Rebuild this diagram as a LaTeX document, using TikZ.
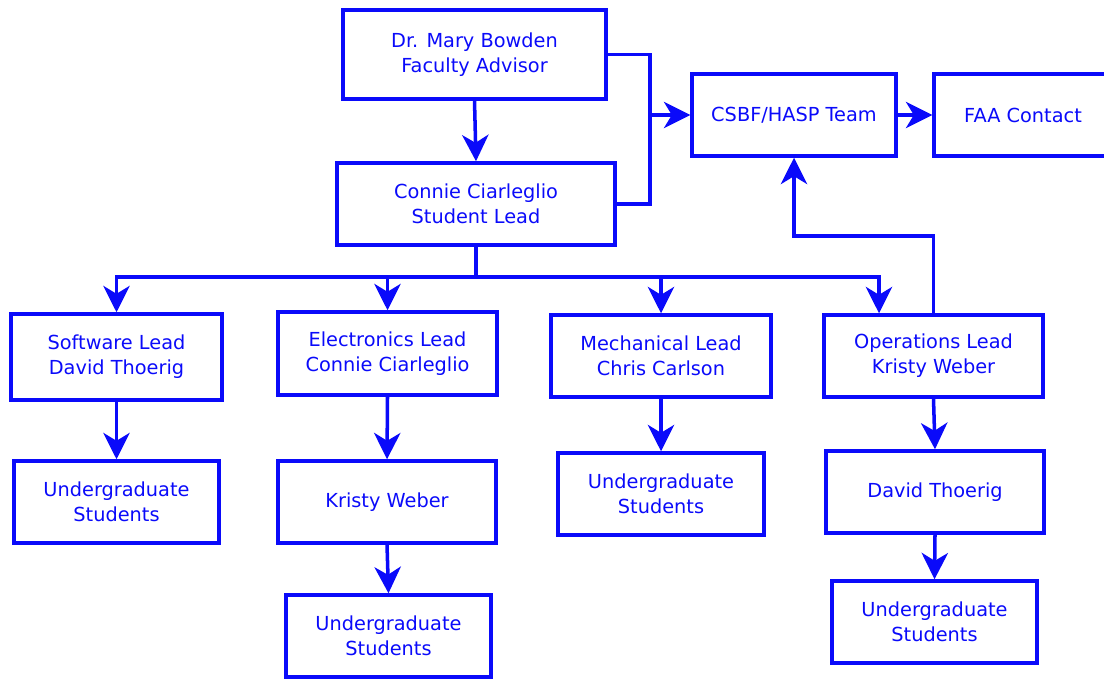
\documentclass[tikz,border=0pt]{standalone}
\usepackage{fontspec}
\setmainfont{DejaVu Sans}
\usepackage{xcolor}
\usetikzlibrary{positioning,arrows.meta}

\definecolor{orgblue}{RGB}{10,10,250}

\begin{document}
\begin{tikzpicture}[
					x=0.02cm, y=-0.02cm,
					box/.style={
						draw=orgblue, line width=2pt, text=orgblue, align=center,
						font=\fontsize{11}{14.2}\selectfont, inner sep=0pt,
						minimum width=4.38cm, minimum height=1.64cm
					},
					wire/.style={
						draw=orgblue, line width=2pt
					},
					link/.style={
						wire, -{Stealth[length=15pt,width=15pt,inset=4.5pt]}
					}
					]
					\useasboundingbox (0,0) rectangle (1104,679);
					
					% top of the chart
					\node[box, minimum width=5.26cm, minimum height=1.78cm] (advisor) at (474.5,54.5) {Dr. Mary Bowden\\Faculty Advisor};
					\node[box, minimum width=5.56cm] (lead) at (476,204) {Connie Ciarleglio\\Student Lead};
					\node[box, minimum width=4.08cm] (csbf) at (794,115) {CSBF/HASP Team};
					\node[box, minimum width=3.56cm] (faa) at (1023,115) {FAA Contact};
					
					% subsystem leads
					\node[box, minimum width=4.22cm, minimum height=1.72cm] (software) at (116.5,357) {Software Lead\\David Thoerig};
					\node[box, minimum height=1.66cm] (electronics) at (387.5,353.5) {Electronics Lead\\Connie Ciarleglio};
					\node[box, minimum width=4.4cm] (mechanical) at (661,356) {Mechanical Lead\\Chris Carlson};
					\node[box] (operations) at (933.5,356) {Operations Lead\\Kristy Weber};
					
					% students under each lead
					\node[box, minimum width=4.1cm] (swstud) at (116.5,502) {Undergraduate\\Students};
					\node[box, minimum width=4.36cm] (kristy) at (387,502) {Kristy Weber};
					\node[box, minimum width=4.1cm] (elstud) at (388.5,636) {Undergraduate\\Students};
					\node[box, minimum width=4.12cm] (mestud) at (661,494) {Undergraduate\\Students};
					\node[box, minimum width=4.36cm] (david) at (935,492) {David Thoerig};
					\node[box, minimum width=4.1cm] (opstud) at (934.5,622) {Undergraduate\\Students};
					
					% connectors
					\coordinate (join) at (650,115);
					\coordinate (bus) at (476,277);
					\coordinate (opsin) at (879,277);
					\coordinate (opsturn) at (794,236);
					
					\draw[link] (advisor.south) -- (lead.north);
					\draw[wire] (advisor.east) -| (join);
					\draw[wire] (lead.east) -| (join);
					\draw[link] (join) -- (csbf.west);
					\draw[link] (csbf) -- (faa);
					\draw[link] (operations.north) |- (opsturn) -- (csbf.south);
					
					\draw[wire] (lead.south) -- (bus);
					\foreach \n in {software,electronics,mechanical} {
						\draw[link] (bus) -| (\n.north);
					}
					\draw[link] (bus) -- (opsin) -- (opsin |- operations.north);
					
					\draw[link] (software) -- (swstud);
					\draw[link] (electronics.south) -- (kristy.north);
					\draw[link] (kristy.south) -- (elstud.north);
					\draw[link] (mechanical) -- (mestud);
					\draw[link] (operations.south) -- (david.north);
					\draw[link] (david.south) -- (opstud.north);
				\end{tikzpicture}
\end{document}
